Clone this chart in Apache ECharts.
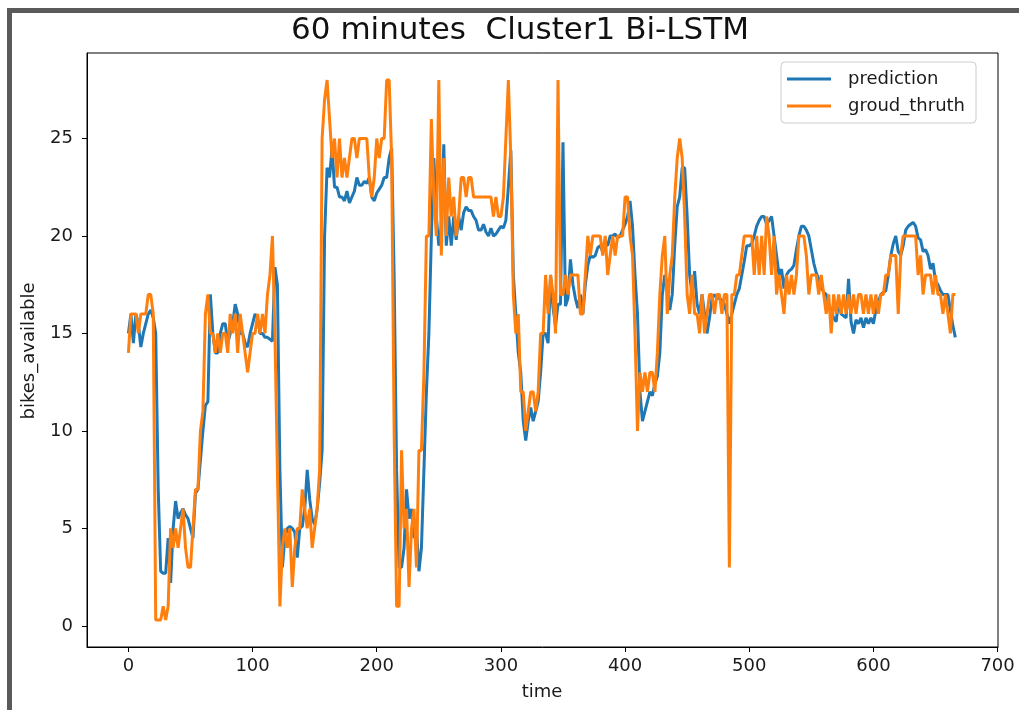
<!DOCTYPE html>
<html>
<head>
<meta charset="utf-8">
<script src="https://cdn.jsdelivr.net/npm/echarts@6/dist/echarts.min.js"></script>
<style>
  html, body { margin: 0; padding: 0; background: #fff; }
  #chart { width: 1019px; height: 710px; }
</style>
</head>
<body>
<div id="chart"></div>
<script>
// sampling step of the time axis (every 2nd time step, t = 0..666)
const TIME_STEP = 2;

const xTicks = [0, 100, 200, 300, 400, 500, 600, 700];
const yTicks = [0, 5, 10, 15, 20, 25];

const prediction = [
  15, 16, 14.5, 16, 15.5, 14.3, 15, 15.5, 16, 16.2,
  15.8, 15, 7, 2.8, 2.7, 2.7, 4.5, 2.2, 5, 6.4,
  5.5, 5.8, 6, 5.7, 5.5, 5, 4.5, 6.8, 7, 8.5,
  10, 11.3, 11.5, 17, 15, 14, 14, 15, 15.5, 15.5,
  14.5, 15, 15.5, 16.5, 16, 15, 15, 14.5, 14.3, 15,
  15.5, 16, 15.8, 15, 15, 14.8, 14.8, 14.7, 14.6, 18.4,
  17.5, 8, 3, 4.5, 5, 5.1, 5, 4.8, 3.5, 5,
  5.1, 6, 8, 6.5, 5.5, 5.2, 6, 7.3, 9, 20,
  23.5, 23, 24.5, 22.5, 22.5, 22, 22, 21.8, 22.3, 21.7,
  22, 22.3, 23, 22.6, 22.6, 22.8, 22.7, 23, 22, 21.8,
  22.2, 22.4, 22.6, 23, 23, 24, 24.5, 18, 8, 3,
  3, 4, 7, 5.5, 6, 4.5, 5, 2.8, 4, 8,
  12, 15, 20, 24, 21, 19.5, 20.5, 24.7, 19.5, 21,
  19.5, 21, 19.8, 21, 20.3, 21.2, 21.5, 21.3, 21.3, 21,
  20.8, 20.3, 20.3, 20.6, 20.2, 20, 20.4, 20, 20.1, 20.3,
  20.5, 20.4, 20.8, 22.5, 24.4, 18, 16, 14, 13, 10.5,
  9.5, 10.5, 11.2, 10.5, 11, 11.5, 13, 15, 15, 14.5,
  18, 16.3, 15.4, 16.5, 16.5, 24.8, 16.4, 16.8, 18.8, 17.5,
  16.8, 16.3, 17, 16, 17.5, 18.5, 19, 18.9, 19, 19.4,
  19.5, 19.2, 19.6, 19.5, 20, 20, 20.1, 19.9, 20, 20.3,
  20.6, 21, 21.8, 20.5, 18, 16, 12, 10.5, 11, 11.5,
  12, 11.8, 12.4, 12.8, 14, 17, 18, 17.5, 16.2, 17,
  19.5, 21.5, 22, 23.5, 23.5, 21, 18, 17, 18.2, 16.5,
  16, 17, 16, 15, 15.8, 16.8, 17, 16.8, 16.8, 16.7,
  16.5, 16, 15.5, 16, 16.5, 17, 17.3, 18, 18.7, 19.5,
  19.5, 19.6, 20, 20.5, 20.8, 21, 21, 20.6, 20.8, 21,
  20, 19, 18, 18.3, 17.3, 18, 18.2, 18.3, 18.5, 19.3,
  20, 20.5, 20.5, 20.3, 20, 19.3, 18.6, 18.1, 17.8, 17.4,
  17.1, 17, 16.5, 16.2, 15.8, 15.6, 16.7, 16, 15.9, 15.8,
  17.8, 15.6, 15, 15.7, 15.5, 15.8, 15.3, 15.8, 15.5, 15.8,
  15.5, 16.2, 16.6, 17, 17.1, 17.2, 18, 19, 19.6, 20,
  19.2, 19, 19.5, 20.3, 20.5, 20.6, 20.7, 20.5, 19.9, 19.8,
  19.2, 19.3, 19, 18.3, 18.6, 17.7, 17.5, 17.2, 17, 17,
  17, 16.2, 15.4, 14.8
];

const groundTruth = [
  14, 16, 16, 16, 15, 16, 16, 16, 17, 17,
  16, 0.3, 0.3, 0.3, 1, 0.3, 1, 5, 4, 5,
  4, 5, 6, 4, 3, 3, 5, 7, 7, 10,
  11, 16, 17, 15, 15, 14, 15, 14, 15, 15,
  14, 16, 15, 16, 14, 16, 15, 14, 13, 14,
  15, 15, 16, 15, 16, 15, 17, 18, 20, 15,
  8, 1, 4, 5, 4, 5, 2, 4, 5, 5,
  7, 6, 5, 6, 4, 5, 6, 8, 25, 27,
  28, 26, 24, 25, 23, 25, 23, 24, 23, 24,
  25, 25, 24, 25, 25, 25, 25, 23, 22, 23,
  25, 24, 25, 25, 28, 28, 24, 10, 1, 1,
  9, 5, 6, 2, 5, 6, 3, 9, 9, 13,
  20, 20, 26, 22, 20, 28, 19, 24, 20, 23,
  21, 22, 20, 21, 23, 23, 22, 23, 23, 22,
  22, 22, 22, 22, 22, 22, 22, 21, 22, 21,
  21, 22, 25, 28, 24, 17, 15, 16, 12, 12,
  10, 11, 12, 12, 11, 12, 15, 15, 18, 16,
  18, 17, 15, 28, 17, 17, 18, 17, 18, 18,
  18, 18, 16, 16, 18, 20, 19, 20, 20, 20,
  20, 19, 20, 18, 19, 20, 19, 20, 20, 20,
  22, 22, 20, 19, 15, 10, 13, 12, 13, 12,
  13, 13, 12, 14, 17, 19, 20, 16, 18, 19,
  22, 24, 25, 24, 21, 17, 16, 18, 16, 16,
  15, 17, 15, 16, 17, 17, 16, 17, 17, 16,
  17, 17, 3, 17, 17, 18, 18, 19, 20, 20,
  20, 20, 18, 20, 18, 20, 18, 21, 20, 18,
  20, 17, 18, 17, 16, 18, 17, 18, 17, 18,
  20, 20, 20, 19, 17, 18, 18, 18, 17, 18,
  17, 16, 17, 15, 17, 16, 17, 16, 17, 16,
  17, 16, 17, 16, 17, 17, 16, 17, 16, 17,
  16, 17, 16, 17, 17, 18, 18, 19, 19, 19,
  16, 19, 20, 20, 20, 20, 20, 20, 18, 19,
  17, 18, 18, 18, 17, 18, 17, 17, 16, 17,
  16, 15, 17, 17
];

const FONT = 'DejaVu Sans';
const toPairs = arr => arr.map((v, i) => [i * TIME_STEP, v]);

const chart = echarts.init(document.getElementById('chart'), null, { renderer: 'canvas' });

const axisCommon = {
  type: 'value',
  splitLine: { show: false },
  axisLine: { show: true, onZero: false, lineStyle: { color: '#000', width: 1 } },
  axisTick: { show: true, inside: false, length: 5, lineStyle: { color: '#000', width: 1 } }
};

chart.setOption({
  animation: false,
  backgroundColor: '#fff',
  grid: {
    left: 87, right: 21, top: 53, bottom: 63,
    show: true, borderColor: '#000', borderWidth: 1, backgroundColor: '#fff'
  },
  xAxis: Object.assign({}, axisCommon, {
    min: -33.35, max: 700.35,
    axisTick: Object.assign({}, axisCommon.axisTick, { customValues: xTicks }),
    axisLabel: { customValues: xTicks, margin: 10, fontFamily: FONT, fontSize: 18, color: '#1a1a1a' }
  }),
  yAxis: Object.assign({}, axisCommon, {
    min: -1.085, max: 29.385,
    axisTick: Object.assign({}, axisCommon.axisTick, { customValues: yTicks }),
    axisLabel: { customValues: yTicks, margin: 14, fontFamily: FONT, fontSize: 18, color: '#1a1a1a' }
  }),
  legend: {
    orient: 'vertical',
    left: 781, top: 62,
    padding: [7, 11, 7, 6],
    itemGap: 7,
    itemWidth: 44, itemHeight: 3,
    backgroundColor: '#fff',
    borderColor: '#cccccc', borderWidth: 1, borderRadius: 4,
    textStyle: { fontFamily: FONT, fontSize: 18, color: '#1a1a1a', lineHeight: 20, padding: [0, 0, 0, 12] },
    data: [
      { name: 'prediction', icon: 'rect', itemStyle: { color: '#1f77b4' } },
      { name: 'groud_thruth', icon: 'rect', itemStyle: { color: '#ff7f0e' } }
    ]
  },
  series: [
    {
      name: 'prediction', type: 'line', data: toPairs(prediction),
      showSymbol: false, symbol: 'none',
      lineStyle: { color: '#1f77b4', width: 3 }, itemStyle: { color: '#1f77b4' }, z: 2
    },
    {
      name: 'groud_thruth', type: 'line', data: toPairs(groundTruth),
      showSymbol: false, symbol: 'none',
      lineStyle: { color: '#ff7f0e', width: 3 }, itemStyle: { color: '#ff7f0e' }, z: 3
    }
  ],
  graphic: [
    { type: 'rect', shape: { x: 7, y: 8, width: 1012, height: 5 }, style: { fill: '#5a5a5a' }, z: 100 },
    { type: 'rect', shape: { x: 7, y: 8, width: 5, height: 702 }, style: { fill: '#5a5a5a' }, z: 100 },
    { type: 'text', x: 520, y: 31, style: { text: '60 minutes  Cluster1 Bi-LSTM', fontFamily: FONT, fontSize: 31, fill: '#111', align: 'center', verticalAlign: 'middle' } },
    { type: 'text', x: 542, y: 692, style: { text: 'time', fontFamily: FONT, fontSize: 18, fill: '#1a1a1a', align: 'center', verticalAlign: 'middle' } },
    { type: 'text', x: 29, y: 351, rotation: Math.PI / 2, style: { text: 'bikes_available', fontFamily: FONT, fontSize: 18, fill: '#1a1a1a', align: 'center', verticalAlign: 'middle' } }
  ]
});
</script>
</body>
</html>
